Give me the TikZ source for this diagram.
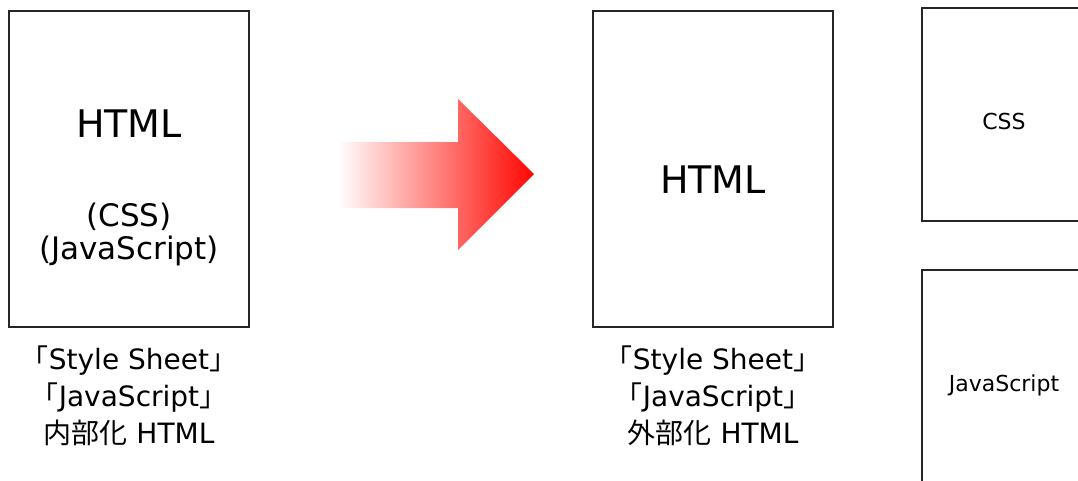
\documentclass[tikz,border=0pt]{standalone}
\usepackage{fontspec}
\setmainfont{DejaVu Sans}
\newfontfamily\jpfont{Noto Sans CJK JP}
\newcommand{\jp}[1]{{\jpfont #1}}
\usetikzlibrary{positioning}

\begin{document}
\begin{tikzpicture}[x=1pt,y=-1pt]
\tikzstyle{pagebox} = [draw=black!85, line width=2pt, minimum width=240pt, minimum height=316pt, inner sep=0pt]
\tikzstyle{filebox} = [draw=black!85, line width=2pt, minimum width=164pt, inner sep=0pt]
\tikzstyle{bigtext} = [font=\fontsize{38}{40}\selectfont, inner sep=0pt]
\tikzstyle{midtext} = [font=\fontsize{31}{33}\selectfont, align=center, inner sep=0pt]
\tikzstyle{smalltext} = [font=\fontsize{22}{24}\selectfont, inner sep=0pt]
\tikzstyle{caption} = [font=\fontsize{28}{37}\selectfont, align=center, inner sep=0pt]

\fill[white] (0,0) rectangle (1078,480);
\useasboundingbox (0,0) rectangle (1078,480);
\clip (0,0) rectangle (1078,480);

% before: everything inside the html
\node[pagebox] (inner) at (129,169) {};
\node[bigtext] (innerhtml) at (129,124) {HTML};
\node[midtext] (innerparts) at (129,234) {(CSS)\\(JavaScript)};
\node[caption, below=18pt of inner] (innercap)
  {\jp{「}Style Sheet\jp{」}\\\jp{「}JavaScript\jp{」}\\\jp{内部化} HTML};

% the arrow
\shade[left color=white, right color=red!95!orange] (338,142) -- (458,142) -- (458,99) -- (534,174)
  -- (458,250) -- (458,208) -- (338,208) -- cycle;

% after: html with outside files
\node[pagebox] (outer) at (713,169) {};
\node[bigtext] (outerhtml) at (713,180) {HTML};
\node[caption, below=18pt of outer] (outercap)
  {\jp{「}Style Sheet\jp{」}\\\jp{「}JavaScript\jp{」}\\\jp{外部化} HTML};

\node[filebox, minimum height=213pt] (cssfile) at (1004,114.5) {};
\node[smalltext] (csstext) at (1004,121) {CSS};
\node[filebox, minimum height=230pt] (jsfile) at (1004,385) {};
\node[smalltext] (jstext) at (jsfile.center) {JavaScript};
\end{tikzpicture}
\end{document}
